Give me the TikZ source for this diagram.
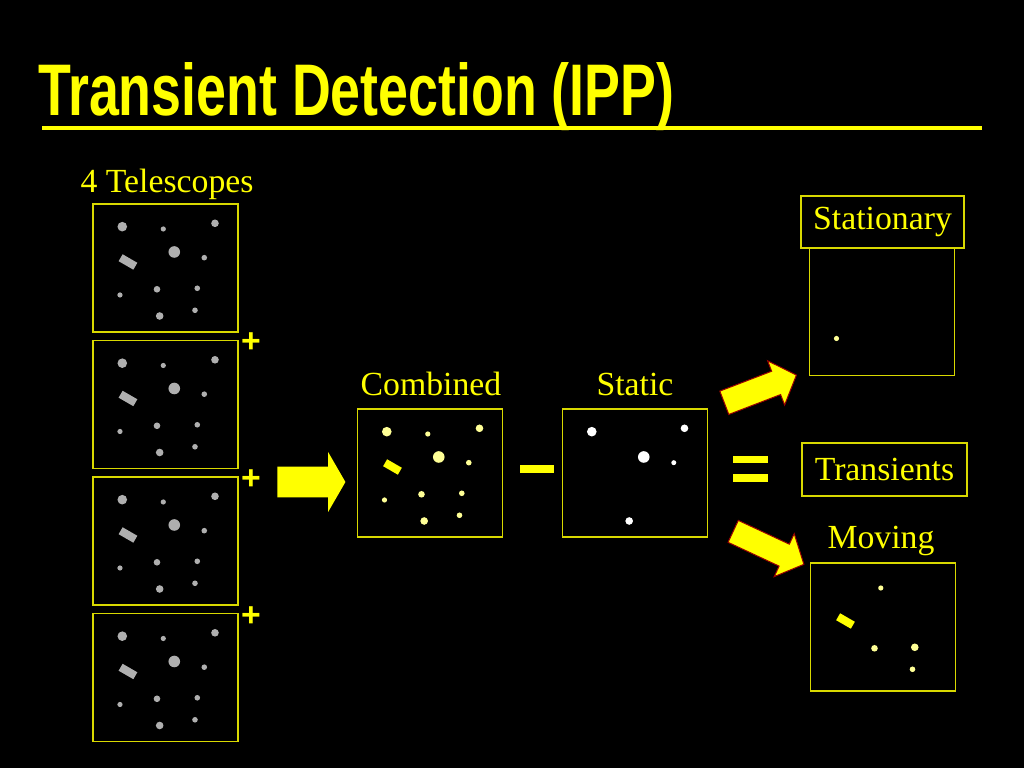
\documentclass[tikz,border=0pt]{standalone}
\usepackage{fontspec}
\setmainfont{Liberation Serif}
\newfontfamily\titlefont{Liberation Sans}
\usetikzlibrary{shapes.arrows}

\definecolor{gold}{RGB}{255,255,0}
\definecolor{skygrey}{RGB}{175,175,175}
\definecolor{pale}{RGB}{255,255,150}

% star positions inside a 145x128 frame: x/y/radius
\newcommand{\alldots}{29.3/22.7/4.8, 70.3/25/2.6, 122/19.3/3.8, 81.3/48/5.8, 111.3/53.7/2.8, 27/91/2.6, 64/85.3/3.3, 104.3/84.3/2.8, 102/106.3/2.8, 66.7/112/3.8}
\newcommand{\staticdots}{29.3/22.7/4.8, 122/19.3/3.8, 81.3/48/5.8, 111.3/53.7/2.5, 66.7/112/3.8}
\newcommand{\stilldots}{27/91/2.6}
\newcommand{\movingdots}{70.3/25/2.6, 64/85.3/3.3, 104.3/84.3/3.8, 102/106.3/2.8}

\newcommand{\sky}[3]{%
  \begin{scope}[shift={(#1.north west)}]
    \foreach \dx/\dy/\r in #3 \fill[#2] (\dx,\dy) circle (\r);
  \end{scope}}
\newcommand{\streak}[2]{%
  \begin{scope}[shift={(#1.north west)}]
    \fill[#2,rotate around={-30:(35,58)}] (26.5,54) rectangle (43.5,62);
  \end{scope}}

\begin{document}
\begin{tikzpicture}[x=0.025cm,y=-0.025cm,
  frame/.style={draw=gold!85!black,line width=0.035cm,minimum width=3.625cm,minimum height=3.2cm,inner sep=0,outer sep=0},
  lab/.style={text=gold,font=\fontsize{24}{28}\selectfont,inner sep=0},
  labbox/.style={lab,draw=gold!85!black,line width=0.035cm},
  blockarrow/.style={single arrow,fill=gold,inner xsep=0,outer sep=0}]

\fill[black] (0,0) rectangle (1024,768);

% title
\node[anchor=base west,inner sep=0,text=gold] (title) at (38,116)
  {\titlefont\bfseries\fontsize{52}{58}\selectfont\scalebox{0.735}[1]{Transient Detection (IPP)}};
\draw[gold,line width=0.11cm] (42,128) -- (982,128);

% the four telescopes
\node[lab,anchor=base] (tel) at (167,192) {4 Telescopes};
\foreach \i in {1,...,4}
  \node[frame] (t\i) at (165.5,{268+136.5*(\i-1)}) {};
\foreach \i in {1,...,4} {
  \sky{t\i}{skygrey}{\alldots}
  \streak{t\i}{skygrey}
}
\foreach \i in {1,2,3}
  \node[lab,font=\titlefont\bfseries\fontsize{24}{28}\selectfont] (plus\i) at (251,{343+137*(\i-1)}) {+};

\node[blockarrow,minimum height=1.7cm,inner ysep=0.375cm,single arrow head extend=0.3625cm,single arrow tip angle=120] (sum) at (307,482) {};

% combined and static
\node[lab,anchor=base] (comblab) at (431,395) {Combined};
\node[frame] (comb) at (430,473) {};
\sky{comb}{pale}{\alldots}
\streak{comb}{gold}

\fill[gold] (520,465) rectangle (554,473);

\node[lab,anchor=base] (statlab) at (635,395) {Static};
\node[frame] (stat) at (635,473) {};
\sky{stat}{white}{\staticdots}

\fill[gold] (733,456) rectangle (768,463);
\fill[gold] (733,474) rectangle (768,482);

% results
\node[labbox,minimum width=4.075cm,minimum height=1.3cm] (stnlab) at (882.5,222) {Stationary};
\node[frame] (stn) at (882,311.5) {};
\sky{stn}{pale}{\stilldots}

\node[labbox,minimum width=4.125cm,minimum height=1.325cm] (trans) at (884.5,469.5) {Transients};

\node[lab,anchor=base] (movlab) at (881,548) {Moving};
\node[frame] (mov) at (883,627) {};
\sky{mov}{pale}{\movingdots}
\streak{mov}{gold}

\node[blockarrow,draw=red!60!black,line width=0.025cm,rotate=21,minimum height=1.93cm,inner ysep=0.3cm,single arrow head extend=0.28cm,single arrow tip angle=95] (up) at (755,391) {};
\node[blockarrow,draw=red!60!black,line width=0.025cm,rotate=-25,minimum height=1.95cm,inner ysep=0.29cm,single arrow head extend=0.29cm,single arrow tip angle=95] (down) at (763.5,545.5) {};
\end{tikzpicture}
\end{document}
